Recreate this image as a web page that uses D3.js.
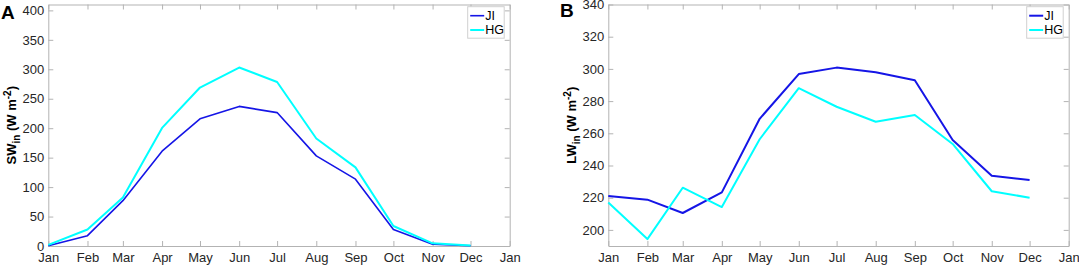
<!DOCTYPE html>
<html>
<head>
<meta charset="utf-8">
<script src="https://cdn.jsdelivr.net/npm/d3@7"></script>
<style>
  body { margin: 0; background: #fff; }
  svg { display: block; font-family: "Liberation Sans", Arial, sans-serif; }
  .axis path, .axis line { stroke: #b3b3b3; }
  .axis text { fill: #262626; font-size: 13px; }
</style>
</head>
<body>
<div id="chart"></div>
<script>
const width = 1079, height = 265;

// data
const months = ["Jan","Feb","Mar","Apr","May","Jun","Jul","Aug","Sep","Oct","Nov","Dec"];
const swJI = [0.5, 17.5, 77, 161, 216, 237, 226.5, 153, 113.5, 28, 3, 0.5];
const swHG = [2, 28, 82.5, 200.5, 269, 303, 278.5, 182.5, 133.5, 34, 4.5, 1];
const lwJI = [221, 218.8, 210.5, 223.3, 269, 296.8, 300.8, 297.9, 293, 255.8, 233.7, 231];
const lwHG = [217, 194.3, 226.2, 214.2, 256.3, 288, 276.5, 267.2, 271.4, 253.4, 224, 220];
const swTicks = [0, 50, 100, 150, 200, 250, 300, 350, 400];
const lwTicks = [200, 220, 240, 260, 280, 300, 320, 340];
const seriesNames = ["JI", "HG"];
const colors = {JI: "#1515e6", HG: "#00ffff"};

const svg = d3.select("#chart")
  .append("svg")
  .attr("width", width)
  .attr("height", height);

const dates = months.map((m, i) => new Date(2001, i, 1));
const plotTop = 4.5, plotBottom = 246;

function panel(opt) {
  const g = svg.append("g");
  const x = d3.scaleTime()
    .domain([new Date(2001, 0, 1), new Date(2002, 0, 1)])
    .range([opt.left, opt.right]);
  const y = d3.scaleLinear()
    .domain(opt.ydomain)
    .range([plotBottom, plotTop]);

  const monthTicks = d3.timeMonth.range(new Date(2001, 0, 1), new Date(2002, 0, 2));
  const fmt = d3.timeFormat("%b");

  g.append("g")
    .attr("class", "axis")
    .attr("transform", `translate(0,${plotBottom})`)
    .call(d3.axisBottom(x).tickValues(monthTicks).tickFormat(fmt).tickSizeInner(-5).tickSizeOuter(0).tickPadding(7));
  g.append("g")
    .attr("class", "axis")
    .attr("transform", `translate(0,${plotTop})`)
    .call(d3.axisTop(x).tickValues(monthTicks).tickFormat("").tickSizeInner(-5).tickSizeOuter(0));
  g.append("g")
    .attr("class", "axis")
    .attr("transform", `translate(${opt.left},0)`)
    .call(d3.axisLeft(y).tickValues(opt.ticks).tickSizeInner(-5).tickSizeOuter(0).tickPadding(4));
  g.append("g")
    .attr("class", "axis")
    .attr("transform", `translate(${opt.right},0)`)
    .call(d3.axisRight(y).tickValues(opt.ticks).tickFormat("").tickSizeInner(-5).tickSizeOuter(0));

  const line = d3.line()
    .x((d, i) => x(dates[i]))
    .y(d => y(d));

  opt.series.forEach((s, k) => {
    g.append("path")
      .datum(s)
      .attr("fill", "none")
      .attr("stroke", colors[seriesNames[k]])
      .attr("stroke-width", opt.widths[k])
      .attr("stroke-linejoin", "round")
      .attr("d", line);
  });

  // y label
  const lab = g.append("text")
    .attr("transform", `translate(${opt.left - 32},${(plotTop + plotBottom) / 2}) rotate(-90)`)
    .attr("text-anchor", "middle")
    .attr("font-weight", "bold")
    .attr("font-size", 13)
    .attr("fill", "#000");
  lab.append("tspan").text(opt.ylab);
  lab.append("tspan").attr("font-size", 10).attr("dy", 4).text("in");
  lab.append("tspan").attr("dy", -4).text(" (W m");
  lab.append("tspan").attr("font-size", 10).attr("dy", -5).text("-2");
  lab.append("tspan").attr("dy", 5).text(")");

  // panel letter
  g.append("text")
    .attr("x", opt.letterX)
    .attr("y", opt.letterY)
    .attr("font-weight", "bold")
    .attr("font-size", 19)
    .text(opt.letter);

  // legend
  const lx = opt.right - 42, ly = 6.7;
  const leg = g.append("g").attr("transform", `translate(${lx},${ly})`);
  leg.append("rect")
    .attr("width", 36.5).attr("height", 31.5)
    .attr("fill", "#fff").attr("stroke", "#d0d0d0").attr("stroke-width", 1);
  seriesNames.forEach((n, k) => {
    const yy = 9 + k * 14.3;
    leg.append("line")
      .attr("x1", 2.5).attr("x2", 16.5).attr("y1", yy).attr("y2", yy)
      .attr("stroke", colors[n]).attr("stroke-width", opt.widths[k]);
    leg.append("text")
      .attr("x", 17.5).attr("y", yy + 4.5)
      .attr("font-size", 12.5).attr("fill", "#000")
      .text(n);
  });
}

panel({left: 48.3, right: 509.7, ydomain: [0, 410], ticks: swTicks,
       series: [swJI, swHG], widths: [1.6, 2], ylab: "SW", letter: "A", letterX: 1, letterY: 18.5});
panel({left: 608.3, right: 1068.7, ydomain: [190, 340], ticks: lwTicks,
       series: [lwJI, lwHG], widths: [2, 2], ylab: "LW", letter: "B", letterX: 560, letterY: 16.5});
</script>
</body>
</html>
